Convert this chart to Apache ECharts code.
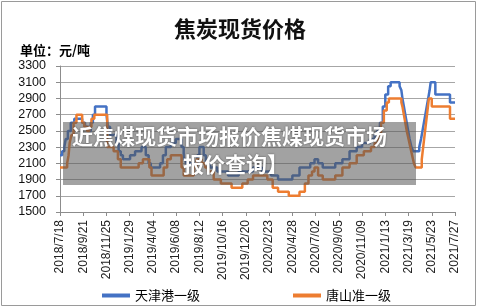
<!DOCTYPE html>
<html>
<head>
<meta charset="utf-8">
<script src="https://cdn.jsdelivr.net/npm/echarts@6/dist/echarts.min.js"></script>
<style>
  html, body { margin: 0; padding: 0; background: #fff; }
  #main { width: 480px; height: 308px; }
</style>
</head>
<body>
<div id="main"></div>
<script>
// 起始日期 2018/7/18，横轴用距起始日的天数
var startDate = Date.UTC(2018, 6, 18);
var tickStep = 65;
var lastDay = 1105;

// 天津港一级：价格变动日（天数）与价格
var tianjinDays = [0, 6, 12, 16, 22, 30, 40, 62, 70, 80, 86, 92, 98, 130, 134, 140, 158, 164, 170, 176,
  196, 210, 228, 240, 248, 254, 280, 288, 296, 310, 324, 340, 346, 352, 384, 390, 402, 408, 420, 440,
  470, 500, 540, 565, 590, 610, 650, 670, 700, 712, 722, 735, 770, 790, 810, 830, 845, 867, 880, 887,
  895, 903, 910, 918, 925, 950, 955, 958, 962, 966, 970, 974, 978, 983, 988, 1005, 1010, 1014, 1018,
  1022, 1026, 1030, 1034, 1037, 1050, 1091, 1105];
var tianjinPrices = [2200, 2250, 2300, 2400, 2500, 2600, 2650, 2600, 2550, 2500, 2600, 2700, 2800, 2700, 2550, 2450, 2350, 2250, 2200, 2150,
  2200, 2250, 2300, 2200, 2100, 2050, 2100, 2200, 2300, 2350, 2400, 2300, 2150, 2100, 2200, 2300, 2200, 2100, 2050, 2000,
  1950, 2000, 2050, 2000, 1950, 1900, 1950, 2050, 2100, 2150, 2100, 2050, 2100, 2150, 2250, 2300, 2350, 2400, 2450, 2500,
  2600, 2800, 2950, 3050, 3100, 3050, 3000, 2900, 2800, 2700, 2600, 2500, 2400, 2300, 2250, 2300, 2400, 2500, 2600,
  2700, 2800, 2900, 3000, 3100, 2950, 2850, 2850];

// 唐山准一级
var tangshanDays = [0, 20, 24, 27, 32, 38, 46, 62, 68, 76, 82, 88, 96, 132, 150, 162, 170, 220, 232, 250,
  256, 290, 300, 310, 340, 346, 374, 382, 396, 406, 414, 430, 450, 480, 510, 525, 540, 580, 595, 610,
  640, 670, 685, 695, 705, 712, 722, 735, 770, 790, 810, 830, 850, 870, 880, 890, 898, 906, 914, 920,
  955, 958, 962, 966, 970, 975, 980, 985, 990, 995, 1012, 1016, 1020, 1024, 1028, 1032, 1040, 1091, 1105];
var tangshanPrices = [2050, 2100, 2200, 2350, 2450, 2600, 2700, 2600, 2550, 2500, 2550, 2650, 2700, 2300, 2250, 2150, 2050, 2100, 2150, 2050,
  1950, 2050, 2150, 2200, 2050, 1950, 2050, 2150, 2100, 2050, 2000, 1900, 1850, 1800, 1850, 1900, 1950, 1900, 1800, 1750,
  1700, 1750, 1850, 1950, 2000, 2050, 1950, 1900, 1950, 2050, 2100, 2200, 2250, 2300, 2350, 2450, 2600, 2750, 2850, 2900,
  2850, 2800, 2700, 2600, 2500, 2400, 2300, 2200, 2100, 2050, 2150, 2300, 2450, 2600, 2750, 2900, 2800, 2650, 2650];

var yMin = 1500, yMax = 3300, yStep = 200;

function pairs(days, prices) {
  return days.map(function (d, i) { return [d, prices[i]]; });
}

function dayLabel(v) {
  var d = new Date(startDate + v * 86400000);
  var day = d.getUTCDate();
  return d.getUTCFullYear() + '/' + (d.getUTCMonth() + 1) + '/' + (day < 10 ? '0' + day : day);
}

var myChart = echarts.init(document.getElementById('main'));
var cjk = '"Noto Sans CJK SC", sans-serif';

var option = {
  animation: false,
  backgroundColor: '#fff',
  title: {
    text: '焦炭现货价格',
    left: 'center',
    top: 13,
    textStyle: { fontFamily: cjk, fontSize: 22, fontWeight: 'bold', color: '#111' }
  },
  legend: {
    left: 97,
    top: 284,
    itemWidth: 28,
    itemHeight: 4,
    itemGap: 93,
    icon: 'rect',
    textStyle: { fontFamily: cjk, fontSize: 13, color: '#000' },
    data: ['天津港一级', '唐山准一级']
  },
  grid: { left: 60, right: 25, top: 66, bottom: 96 },
  xAxis: {
    type: 'value',
    min: 0,
    max: lastDay,
    interval: tickStep,
    axisLine: { lineStyle: { color: '#8c8c8c' } },
    axisTick: { length: 4, lineStyle: { color: '#8c8c8c' } },
    splitLine: { show: false },
    axisLabel: {
      rotate: 90,
      margin: 8,
      fontFamily: 'Liberation Sans',
      fontSize: 12,
      color: '#222',
      formatter: dayLabel
    }
  },
  yAxis: {
    type: 'value',
    min: yMin,
    max: yMax,
    interval: yStep,
    axisLine: { show: true, lineStyle: { color: '#8c8c8c' } },
    axisTick: { show: true, length: 4, lineStyle: { color: '#8c8c8c' } },
    splitLine: { lineStyle: { color: '#a6a6a6' } },
    axisLabel: {
      fontFamily: 'Liberation Sans', fontSize: 12.5, color: '#111', margin: 14,
      formatter: function (v) { return String(v); }
    }
  },
  series: [
    {
      name: '天津港一级',
      type: 'line',
      step: 'end',
      showSymbol: false,
      color: '#4472C4',
      lineStyle: { width: 2.5 },
      data: pairs(tianjinDays, tianjinPrices)
    },
    {
      name: '唐山准一级',
      type: 'line',
      step: 'end',
      showSymbol: false,
      color: '#ED7D31',
      lineStyle: { width: 2.5 },
      data: pairs(tangshanDays, tangshanPrices)
    }
  ],
  graphic: [
    {
      type: 'rect',
      shape: { x: 1.5, y: 1.5, width: 474, height: 304 },
      style: { fill: null, stroke: '#9a9a9a', lineWidth: 1 },
      silent: true
    },
    {
      type: 'text',
      left: 20,
      top: 44,
      style: { text: '单位：元/吨', fontFamily: cjk, fontSize: 13, fontWeight: 'bold', fill: '#000' }
    },
    {
      type: 'rect',
      shape: { x: 63, y: 122, width: 353, height: 63 },
      style: { fill: 'rgba(85,85,85,0.55)' },
      z: 100,
      silent: true
    },
    {
      type: 'text',
      x: 72, y: 126,
      z: 101,
      style: {
        text: '近焦煤现货市场报价焦煤现货市场',
        fontFamily: cjk, fontSize: 21, fontWeight: 'bold', fill: '#fff',
        textShadowColor: 'rgba(0,0,0,0.5)', textShadowBlur: 2
      }
    },
    {
      type: 'text',
      x: 183, y: 154,
      z: 101,
      style: {
        text: '报价查询】',
        fontFamily: cjk, fontSize: 21, fontWeight: 'bold', fill: '#fff',
        textShadowColor: 'rgba(0,0,0,0.5)', textShadowBlur: 2
      }
    }
  ]
};
myChart.setOption(option);
</script>
</body>
</html>
